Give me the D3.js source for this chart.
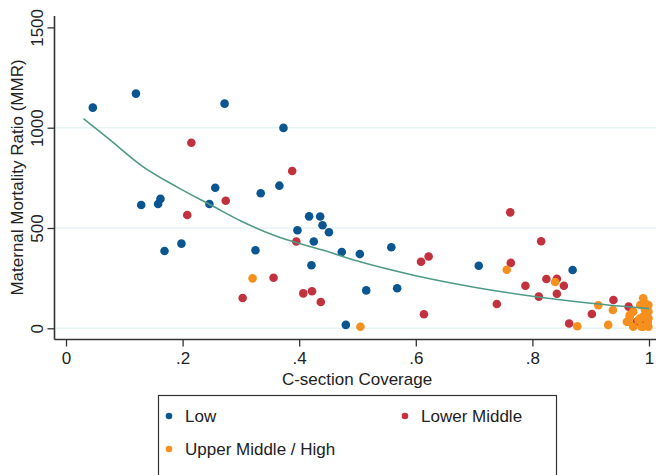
<!DOCTYPE html>
<html>
<head>
<meta charset="utf-8">
<script src="https://cdn.jsdelivr.net/npm/d3@7"></script>
<style>
  html, body { margin: 0; padding: 0; background: #fff; }
  svg { display: block; font-family: "Liberation Sans", Arial, sans-serif; }
</style>
</head>
<body>
<svg id="chart" width="656" height="475"></svg>
<script>
// ---- Data ----
const groups = ["Low", "Lower Middle", "Upper Middle / High"];

const lowPoints = [
  [0.046,1100],[0.120,1170],[0.272,1120],[0.373,999],[0.256,701],[0.334,673],
  [0.366,711],[0.129,615],[0.158,620],[0.162,645],[0.246,620],[0.198,422],
  [0.169,385],[0.325,389],[0.397,489],[0.417,558],[0.436,557],[0.440,514],
  [0.451,479],[0.425,433],[0.421,314],[0.473,380],[0.504,370],[0.558,404],
  [0.515,189],[0.568,200],[0.480,17],[0.708,312],[0.869,291]
];

const lowerMiddlePoints = [
  [0.215,925],[0.388,784],[0.274,636],[0.208,565],[0.356,252],[0.303,151],
  [0.395,433],[0.407,174],[0.422,185],[0.437,131],[0.609,332],[0.622,358],
  [0.614,70],[0.762,578],[0.815,434],[0.763,326],[0.824,246],[0.842,247],
  [0.854,212],[0.788,212],[0.842,172],[0.811,158],[0.739,121],[0.939,141],
  [0.902,71],[0.863,24],[0.965,108],[0.979,33],[0.987,25]
];

const upperMiddlePoints = [
  [0.320,249],[0.505,8],[0.756,292],[0.839,231],[0.913,115],[0.938,91],
  [0.877,10],[0.930,17],[0.990,150],[0.999,116],[0.985,116],[0.993,125],
  [0.967,66],[0.965,33],[0.973,8],[0.990,8],[0.999,8],[0.999,50],
  [0.985,50],[0.962,33],[0.982,41],[0.990,58],[0.999,83],[0.987,8],
  [0.973,83],[0.967,58],[0.998,31],[0.993,91]
];

// fitted curve
const fitCurve = [
  [0.03,1045],[0.075,940],[0.13,810],[0.19,705],[0.25,612],[0.30,535],
  [0.36,460],[0.44,390],[0.50,335],[0.60,262],[0.70,205],[0.80,160],
  [0.90,125],[1.00,98]
];

const xTicks = [0, 0.2, 0.4, 0.6, 0.8, 1];
const xTickLabels = ["0", ".2", ".4", ".6", ".8", "1"];
const yTicks = [0, 500, 1000, 1500];
const yTickLabels = ["0", "500", "1000", "1500"];
const yGrid = [0, 500, 1000];

const colors = ["#0b5590", "#c1313e", "#f5901e"];
const fitColor = "#4f9a86";

// ---- Layout ----
const svg = d3.select("#chart");
const W = 656, H = 475;
const axisLeft = 54.5, axisBottom = 339.5, axisTop = 16, plotRight = 656;

const x = d3.scaleLinear().domain([0, 1]).range([66, 649]);
const y = d3.scaleLinear().domain([0, 1500]).range([328.3, 27.4]);

// gridlines
svg.append("g").selectAll("line").data(yGrid).join("line")
  .attr("x1", axisLeft).attr("x2", plotRight)
  .attr("y1", d => y(d)).attr("y2", d => y(d))
  .attr("stroke", "#e6f3f5").attr("stroke-width", 1.6);

// y axis
const yAxis = d3.axisLeft(y).tickValues(yTicks)
  .tickFormat((d, i) => yTickLabels[i]).tickSize(7).tickSizeOuter(0);
const gy = svg.append("g").attr("transform", `translate(${axisLeft},0)`).call(yAxis);
gy.select(".domain").remove();
gy.selectAll(".tick line").attr("stroke", "#333").attr("stroke-width", 1.3);
gy.selectAll(".tick text")
  .attr("font-size", 17).attr("fill", "#222")
  .attr("font-family", "'Liberation Sans', Arial, sans-serif")
  .attr("transform", "rotate(-90)")
  .attr("x", 0).attr("y", -12)
  .attr("dy", 0)
  .attr("text-anchor", "middle");
gy.selectAll(".tick text").each(function() {
  // rotated labels: after rotate(-90), translate is applied before rotate in tick group
});
svg.append("line")
  .attr("x1", axisLeft).attr("x2", axisLeft)
  .attr("y1", axisTop).attr("y2", axisBottom)
  .attr("stroke", "#333").attr("stroke-width", 1.6);

// x axis
const xAxis = d3.axisBottom(x).tickValues(xTicks)
  .tickFormat((d, i) => xTickLabels[i]).tickSize(7).tickSizeOuter(0);
const gx = svg.append("g").attr("transform", `translate(0,${axisBottom})`).call(xAxis);
gx.select(".domain").remove();
gx.selectAll(".tick line").attr("stroke", "#333").attr("stroke-width", 1.3);
gx.selectAll(".tick text")
  .attr("font-size", 17).attr("fill", "#222")
  .attr("font-family", "'Liberation Sans', Arial, sans-serif")
  .attr("y", 12).attr("dy", "0.71em");
svg.append("line")
  .attr("x1", axisLeft).attr("x2", plotRight)
  .attr("y1", axisBottom).attr("y2", axisBottom)
  .attr("stroke", "#333").attr("stroke-width", 1.6);

// axis titles
svg.append("text")
  .attr("x", 357).attr("y", 385)
  .attr("text-anchor", "middle").attr("font-size", 17).attr("fill", "#222")
  .text("C-section Coverage");
svg.append("text")
  .attr("transform", `translate(23,${(58 + 297) / 2}) rotate(-90)`)
  .attr("text-anchor", "middle").attr("font-size", 17).attr("fill", "#222")
  .text("Maternal Mortality Ratio (MMR)");

// points
const allGroups = [lowPoints, lowerMiddlePoints, upperMiddlePoints];
allGroups.forEach((pts, gi) => {
  svg.append("g").selectAll("circle").data(pts).join("circle")
    .attr("cx", d => x(d[0])).attr("cy", d => y(d[1]))
    .attr("r", 4.3)
    .attr("fill", colors[gi]);
});

// fitted line
const line = d3.line().x(d => x(d[0])).y(d => y(d[1])).curve(d3.curveMonotoneX);
svg.append("path").datum(fitCurve)
  .attr("d", line).attr("fill", "none")
  .attr("stroke", fitColor).attr("stroke-width", 1.6);

// legend
const lg = svg.append("g");
lg.append("rect")
  .attr("x", 158.5).attr("y", 395.5).attr("width", 398).attr("height", 100)
  .attr("fill", "#fff").attr("stroke", "#333").attr("stroke-width", 1.2);
const legendPos = [[169, 416], [405, 416], [169, 449]];
groups.forEach((g, i) => {
  lg.append("circle").attr("cx", legendPos[i][0]).attr("cy", legendPos[i][1])
    .attr("r", 3.3).attr("fill", colors[i]);
  lg.append("text").attr("x", legendPos[i][0] + 16).attr("y", legendPos[i][1] + 6)
    .attr("font-size", 17).attr("fill", "#222").text(g);
});
</script>
</body>
</html>
